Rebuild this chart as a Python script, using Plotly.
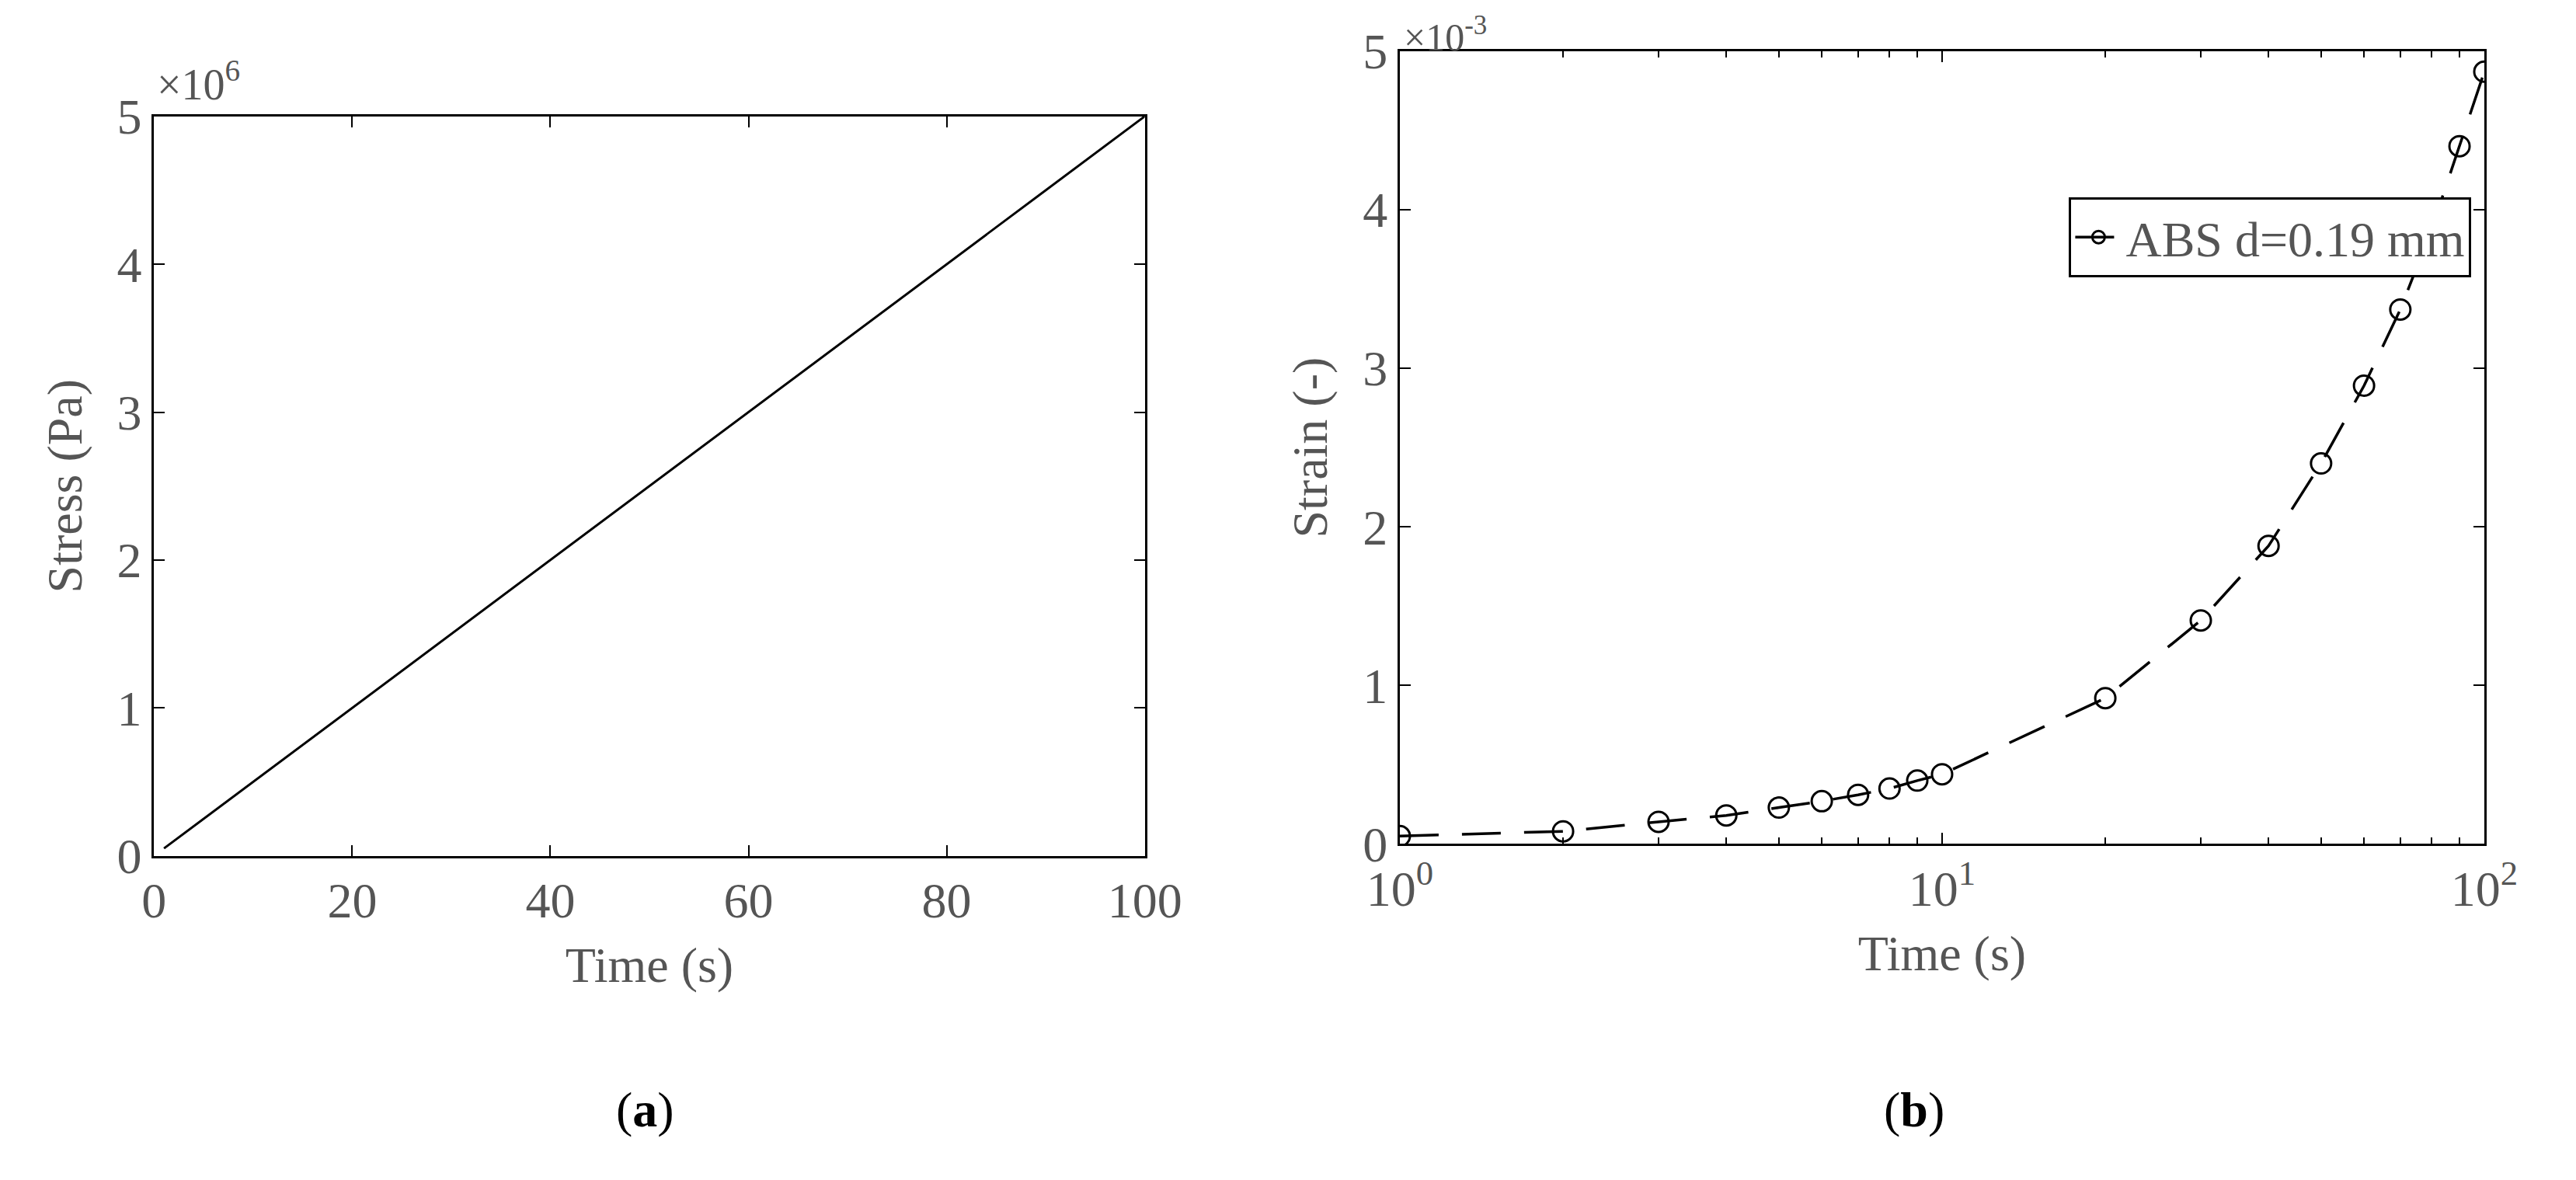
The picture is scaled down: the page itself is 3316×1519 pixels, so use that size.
import plotly.graph_objects as go

stress_time = [1, 100]
stress_pa = [0.05e6, 5.0e6]

strain_time = [1, 2, 3, 4, 5, 6, 7, 8, 9, 10, 20, 30, 40, 50, 60, 70, 80, 90, 100]
strain_e3 = [0.05, 0.08, 0.14, 0.18, 0.23, 0.27, 0.31, 0.35, 0.40, 0.44,
             0.92, 1.41, 1.88, 2.40, 2.89, 3.37, 3.88, 4.40, 4.87]
strain = [v * 1e-3 for v in strain_e3]

FONT = "Liberation Serif"
GRAY = "#555"
FS = 64

fig = go.Figure()
fig.add_trace(go.Scatter(x=stress_time, y=stress_pa, mode="lines",
                         line=dict(color="black", width=3), showlegend=False,
                         xaxis="x", yaxis="y"))
fig.add_trace(go.Scatter(x=strain_time, y=strain, mode="lines+markers",
                         name="ABS d=0.19 mm",
                         line=dict(color="black", width=3.5, dash="50px,30px"),
                         marker=dict(symbol="circle-open", size=26, color="black",
                                     line=dict(width=3)),
                         xaxis="x2", yaxis="y2"))

ax_common = dict(showline=True, linecolor="black", linewidth=3, mirror="ticks",
                 ticks="inside", ticklen=14, tickwidth=2, tickcolor="black",
                 showgrid=False, zeroline=False,
                 tickfont=dict(family=FONT, size=FS, color=GRAY))

fig.update_layout(
    width=3316, height=1519, margin=dict(l=0, r=0, t=0, b=0, autoexpand=False),
    paper_bgcolor="white", plot_bgcolor="white",
    font=dict(family=FONT, color=GRAY, size=FS),
    xaxis=dict(domain=[0.0574, 0.442], range=[0, 100], tickvals=[0, 20, 40, 60, 80, 100],
               title=dict(text="Time (s)", font=dict(size=FS), standoff=25), **ax_common),
    yaxis=dict(domain=[0.28, 0.9067], range=[0, 5e6], tickvals=[0, 1e6, 2e6, 3e6, 4e6, 5e6],
               ticktext=["0", "1", "2", "3", "4", "5"],
               title=dict(text="Stress (Pa)", font=dict(size=FS), standoff=25), **ax_common),
    xaxis2=dict(domain=[0.541, 0.962], type="log", range=[0, 2], anchor="y2",
                tickvals=[1, 10, 100], ticktext=["10<sup>0</sup>", "10<sup>1</sup>", "10<sup>2</sup>"],
                minor=dict(ticks="inside", ticklen=8, tickwidth=2, tickcolor="black",
                           tickvals=[2, 3, 4, 5, 6, 7, 8, 9, 20, 30, 40, 50, 60, 70, 80, 90]),
                title=dict(text="Time (s)", font=dict(size=FS), standoff=25), **ax_common),
    yaxis2=dict(domain=[0.29, 0.962], range=[0, 5e-3], anchor="x2",
                tickvals=[0, 1e-3, 2e-3, 3e-3, 4e-3, 5e-3], ticktext=["0", "1", "2", "3", "4", "5"],
                title=dict(text="Strain (-)", font=dict(size=FS), standoff=25), **ax_common),
    legend=dict(x=0.957, xanchor="right", y=0.838, yanchor="top",
                bordercolor="black", borderwidth=3, bgcolor="white", itemwidth=60,
                font=dict(family=FONT, size=FS, color=GRAY)),
    annotations=[
        dict(text="×10<sup>6</sup>", xref="paper", yref="paper", x=0.058, y=0.912,
             xanchor="left", yanchor="bottom", showarrow=False,
             font=dict(family=FONT, size=FS - 8, color=GRAY)),
        dict(text="×10<sup>-3</sup>", xref="paper", yref="paper", x=0.542, y=0.998,
             xanchor="left", yanchor="top", showarrow=False,
             font=dict(family=FONT, size=FS - 14, color=GRAY)),
        dict(text="(<b>a</b>)", xref="paper", yref="paper", x=0.236, y=0.04,
             showarrow=False, font=dict(family=FONT, size=64, color="black")),
        dict(text="(<b>b</b>)", xref="paper", yref="paper", x=0.753, y=0.04,
             showarrow=False, font=dict(family=FONT, size=64, color="black")),
    ],
)

fig.write_html("out.html")
